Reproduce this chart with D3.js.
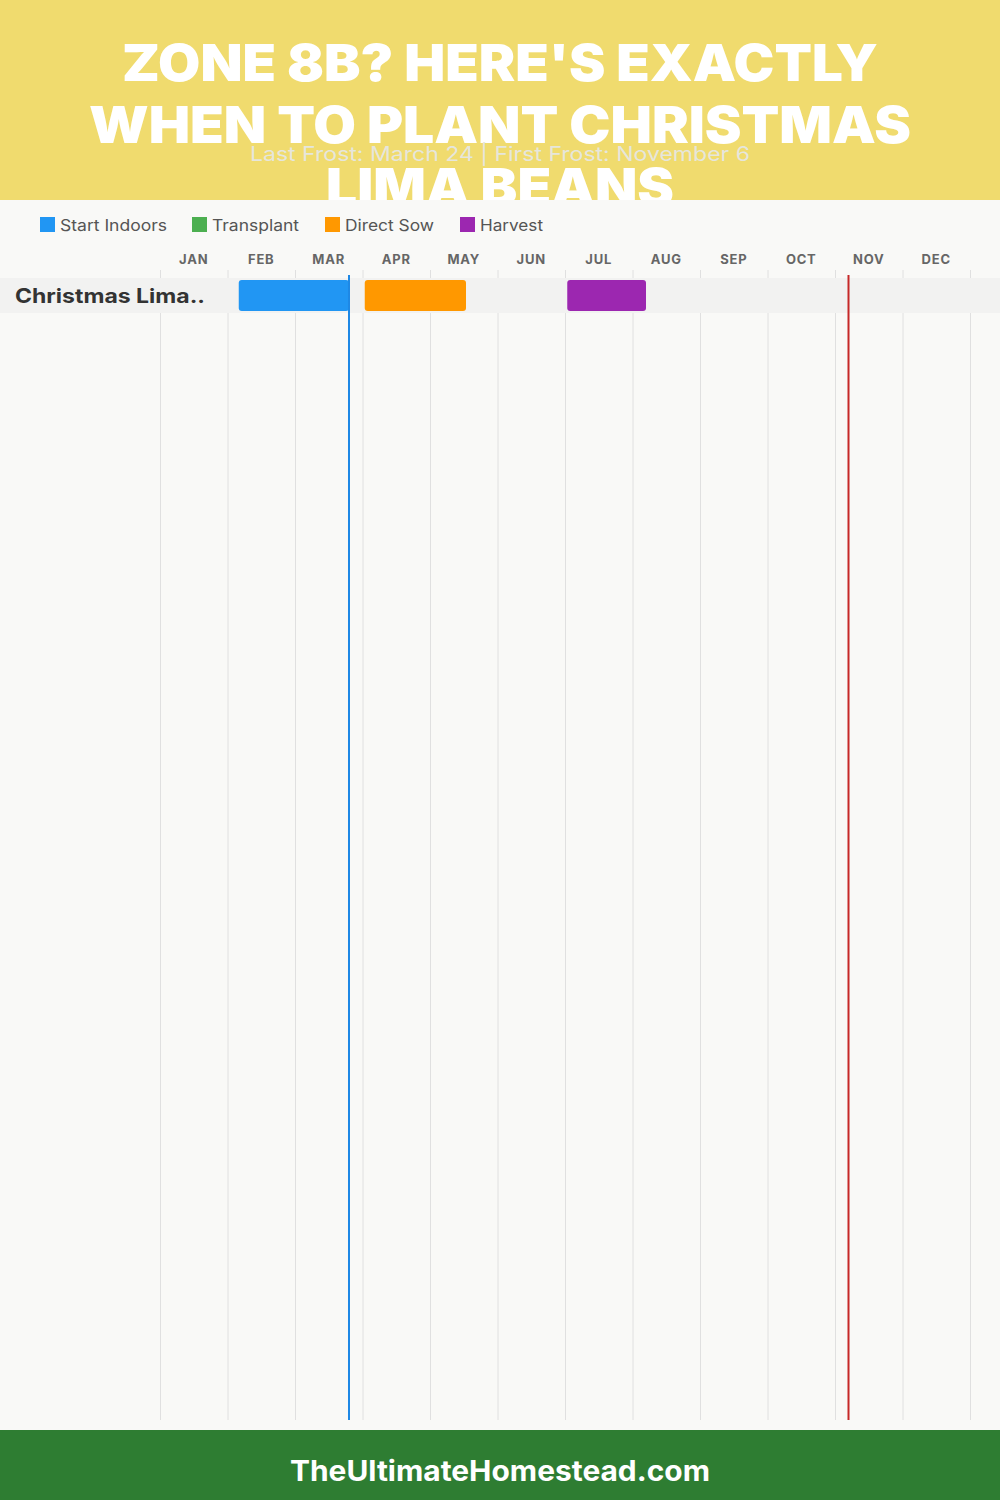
<!DOCTYPE html>
<html><head><meta charset="utf-8">
<script src="https://cdn.jsdelivr.net/npm/d3@7"></script>
<style>html,body{margin:0;padding:0;background:#F9F9F7;}svg{display:block;}</style>
</head><body>
<script>
// ---- data ----
const titleLines = ["ZONE 8B? HERE'S EXACTLY", "WHEN TO PLANT CHRISTMAS", "LIMA BEANS"];
const subtitle = "Last Frost: March 24 | First Frost: November 6";
const months = ["JAN","FEB","MAR","APR","MAY","JUN","JUL","AUG","SEP","OCT","NOV","DEC"];
const stages = ["Start Indoors","Transplant","Direct Sow","Harvest"];
const stageColors = ["#2196F3","#4CAF50","#FF9800","#9C27B0"];
const crops = ["Christmas Lima.."];
// periods: [stage, startMonthIndex, startDay, endMonthIndex, endDay]
const periodStage = ["Start Indoors","Direct Sow","Harvest"];
const periodStart = [[1,5],[3,1],[6,1]];
const periodEnd   = [[2,24],[4,16],[7,6]];
const lastFrost = [2,24];
const firstFrost = [10,6];
const footer = "TheUltimateHomestead.com";

const W = 1000, H = 1500;
const svg = d3.select("body").append("svg").attr("width", W).attr("height", H);
const font = "Inter, 'Open Sans', sans-serif";

// header
svg.append("rect").attr("x",0).attr("y",0).attr("width",W).attr("height",200).attr("fill","#F0DB6E");
const titleWidths = [756, 822, 348];
titleLines.forEach((t,i)=>{
  svg.append("text").attr("x",W/2).attr("y",81+i*62).attr("text-anchor","middle")
    .attr("font-family",font).attr("font-weight",900).attr("font-size",51)
    .attr("fill","#fff").attr("textLength",titleWidths[i]).attr("lengthAdjust","spacingAndGlyphs")
    .text(t);
});
svg.append("text").attr("x",W/2).attr("y",161).attr("text-anchor","middle")
  .attr("font-family",font).attr("font-weight",400).attr("font-size",20)
  .attr("fill","#E6E6DC").attr("textLength",500).attr("lengthAdjust","spacingAndGlyphs").text(subtitle);

// chart background
svg.append("rect").attr("x",0).attr("y",200).attr("width",W).attr("height",1230).attr("fill","#F9F9F7");

// legend
const legendX = [40,192,325,460];
const legendW = [107,87,89,63];
const lg = svg.append("g");
stages.forEach((s,i)=>{
  lg.append("rect").attr("x",legendX[i]).attr("y",217).attr("width",15).attr("height",15).attr("fill",stageColors[i]);
  lg.append("text").attr("x",legendX[i]+20).attr("y",231).attr("font-family",font).attr("font-size",16)
    .attr("fill","#555").attr("textLength",legendW[i]).attr("lengthAdjust","spacingAndGlyphs").text(s);
});

// scales
const x = d3.scaleLinear().domain([0,12]).range([160,970]);
const toM = d => d[0] + d[1]/30;
const color = d3.scaleOrdinal().domain(stages).range(stageColors);
const y = d3.scaleBand().domain(crops).range([278, 313]);

// gridlines
svg.append("g").selectAll("line").data(d3.range(0,13)).join("line")
  .attr("x1",d=>x(d)+0.5).attr("x2",d=>x(d)+0.5).attr("y1",270).attr("y2",1420)
  .attr("stroke","#E0E0E0").attr("stroke-width",1);

// month labels
svg.append("g").selectAll("text").data(months).join("text")
  .attr("x",(d,i)=>x(i+0.5)).attr("y",264).attr("text-anchor","middle")
  .attr("font-family",font).attr("font-weight",700).attr("font-size",13).attr("letter-spacing",0.8)
  .attr("fill","#666").text(d=>d);

// row bands
crops.forEach(c=>{
  svg.append("rect").attr("x",0).attr("y",y(c)).attr("width",W).attr("height",y.bandwidth()).attr("fill","#F2F2F1");
  svg.append("text").attr("x",15).attr("y",y(c)+y.bandwidth()/2+7).attr("font-family",font)
    .attr("font-weight",700).attr("font-size",20).attr("fill","#333")
    .attr("textLength",190).attr("lengthAdjust","spacingAndGlyphs").text(c);
});

// bars
svg.append("g").selectAll("rect").data(periodStage.map((s,i)=>({s,a:toM(periodStart[i]),b:toM(periodEnd[i])})))
  .join("rect").attr("x",d=>x(d.a)).attr("width",d=>x(d.b)-x(d.a))
  .attr("y",y(crops[0])+2).attr("height",y.bandwidth()-4).attr("rx",3)
  .attr("fill",d=>color(d.s));

// frost lines
svg.append("line").attr("x1",x(toM(lastFrost))).attr("x2",x(toM(lastFrost))).attr("y1",275).attr("y2",1420)
  .attr("stroke","#1E88E5").attr("stroke-width",2);
svg.append("line").attr("x1",x(toM(firstFrost))).attr("x2",x(toM(firstFrost))).attr("y1",275).attr("y2",1420)
  .attr("stroke","#C62828").attr("stroke-width",2);

// footer
svg.append("rect").attr("x",0).attr("y",1430).attr("width",W).attr("height",70).attr("fill","#2E7D32");
svg.append("text").attr("x",W/2).attr("y",1481).attr("text-anchor","middle").attr("font-family",font)
  .attr("font-weight",700).attr("font-size",28).attr("fill","#fff")
  .attr("textLength",420).attr("lengthAdjust","spacingAndGlyphs").text(footer);
</script>
</body></html>
